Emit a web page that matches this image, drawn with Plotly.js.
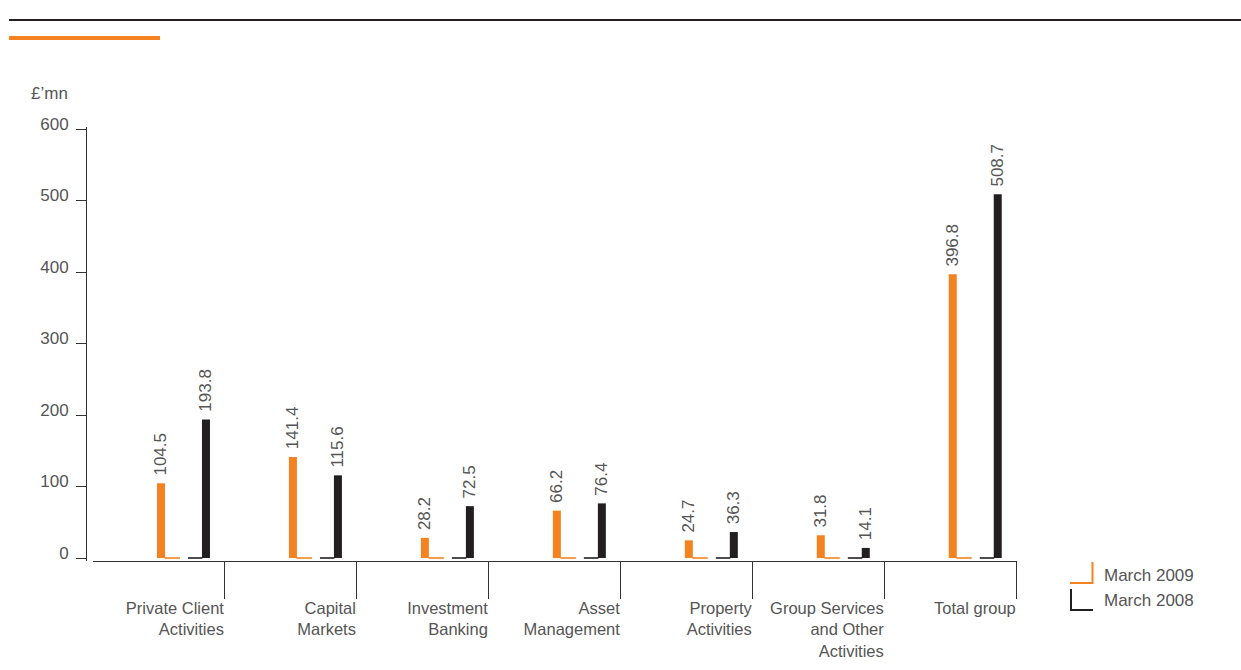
<!DOCTYPE html>
<html>
<head>
<meta charset="utf-8">
<script src="https://cdn.plot.ly/plotly-3.0.1.min.js"></script>
<style>html,body{margin:0;padding:0;background:#fff}#chart{width:1241px;height:670px}</style>
</head>
<body>
<div id="chart"></div>
<script>
// ---- data ----
const categories = ['Private Client<br>Activities', 'Capital<br>Markets', 'Investment<br>Banking', 'Asset<br>Management', 'Property<br>Activities', 'Group Services<br>and Other<br>Activities', 'Total group'];
const march2009 = [104.5, 141.4, 28.2, 66.2, 24.7, 31.8, 396.8];
const march2008 = [193.8, 115.6, 72.5, 76.4, 36.3, 14.1, 508.7];
const seriesNames = ['March 2009', 'March 2008'];
const yTickVals = [0, 100, 200, 300, 400, 500, 600];
const unitLabel = '£’mn';

// ---- style ----
const ORANGE = '#f58220';
const BLACK = '#231f20';
const TXT = '#555555';
const FONT = 'Liberation Sans, Arial, sans-serif';

// plot area geometry (pixels)
const L = 86, R = 224, T = 127, B = 109;
const W = 1241 - L - R, H = 670 - T - B;
const px = x => (x - L) / W;
const py = y => (670 - B - y) / H;

const idx = categories.map((_, i) => i);
const catW = 132; // px per category
const bw = 8 / catW;

function feet(a, b) {
  const xs = [], ys = [];
  idx.forEach(i => { xs.push(i + a / catW, i + b / catW, null); ys.push(0, 0, null); });
  return {xs, ys};
}
const f09 = feet(5.5, 21), f08 = feet(29, 43.5);

const traces = [
  {type: 'bar', name: seriesNames[0], x: idx, y: march2009, width: bw, offset: -2 / catW,
   marker: {color: ORANGE, line: {width: 0}}, texttemplate: '\u00a0%{y:.1f}',
   textposition: 'outside', textangle: -90, constraintext: 'none', cliponaxis: false,
   textfont: {family: FONT, size: 17, color: TXT}, hoverinfo: 'skip', showlegend: false},
  {type: 'bar', name: seriesNames[1], x: idx, y: march2008, width: bw, offset: 43 / catW,
   marker: {color: BLACK, line: {width: 0}}, texttemplate: '\u00a0%{y:.1f}',
   textposition: 'outside', textangle: -90, constraintext: 'none', cliponaxis: false,
   textfont: {family: FONT, size: 17, color: TXT}, hoverinfo: 'skip', showlegend: false},
  {type: 'scatter', mode: 'lines', x: f09.xs, y: f09.ys, line: {color: ORANGE, width: 1.6},
   hoverinfo: 'skip', showlegend: false, cliponaxis: false},
  {type: 'scatter', mode: 'lines', x: f08.xs, y: f08.ys, line: {color: BLACK, width: 1.6},
   hoverinfo: 'skip', showlegend: false, cliponaxis: false}
];

const shapes = [
  // header rules
  {type: 'line', xref: 'paper', yref: 'paper', x0: px(9), x1: px(1241), y0: py(20), y1: py(20), line: {color: BLACK, width: 1.8}},
  {type: 'line', xref: 'paper', yref: 'paper', x0: px(9), x1: px(160), y0: py(38), y1: py(38), line: {color: ORANGE, width: 4}},
  // legend symbols
  {type: 'path', xref: 'paper', yref: 'paper', path: `M ${px(1070)} ${py(583)} L ${px(1092.5)} ${py(583)} L ${px(1092.5)} ${py(562)}`, line: {color: ORANGE, width: 2}},
  {type: 'path', xref: 'paper', yref: 'paper', path: `M ${px(1071)} ${py(589)} L ${px(1071)} ${py(610)} L ${px(1093)} ${py(610)}`, line: {color: BLACK, width: 2}}
];

const annotations = [
  {xref: 'paper', yref: 'paper', x: px(29), y: py(94), xanchor: 'left', yanchor: 'middle', showarrow: false,
   text: unitLabel, font: {family: FONT, size: 17, color: TXT}},
  {xref: 'paper', yref: 'paper', x: px(1102), y: py(575), xanchor: 'left', yanchor: 'middle', showarrow: false,
   text: seriesNames[0], font: {family: FONT, size: 17, color: TXT}},
  {xref: 'paper', yref: 'paper', x: px(1102), y: py(600), xanchor: 'left', yanchor: 'middle', showarrow: false,
   text: seriesNames[1], font: {family: FONT, size: 17, color: TXT}}
];

const layout = {
  width: 1241, height: 670,
  margin: {l: L, r: R, t: T, b: B, pad: 0},
  paper_bgcolor: '#fff', plot_bgcolor: '#fff',
  font: {family: FONT, size: 17, color: TXT},
  barmode: 'overlay',
  showlegend: false,
  xaxis: {
    domain: [px(93), 1], range: [-0.5, 6.502], showgrid: false, zeroline: false,
    showline: true, linecolor: '#333', linewidth: 1,
    tickmode: 'array', tickvals: idx.map(i => i + 0.5), ticktext: categories,
    ticks: 'outside', ticklen: 37, tickwidth: 1, tickcolor: '#333',
    ticklabelposition: 'outside left', ticklabelstandoff: 32,
    tickfont: {family: FONT, size: 16.5, color: TXT}, fixedrange: true
  },
  yaxis: {
    anchor: 'free', position: 0, range: [-4.2, 602.8], showgrid: false, zeroline: false,
    showline: true, linecolor: '#333', linewidth: 1,
    tickmode: 'array', tickvals: yTickVals,
    ticks: 'outside', ticklen: 10, tickwidth: 1, tickcolor: '#333',
    ticklabelshift: -5, ticklabelstandoff: 4,
    tickfont: {family: FONT, size: 17, color: TXT}, fixedrange: true
  },
  shapes: shapes,
  annotations: annotations
};

Plotly.newPlot('chart', traces, layout, {displayModeBar: false, staticPlot: true});
</script>
</body>
</html>
